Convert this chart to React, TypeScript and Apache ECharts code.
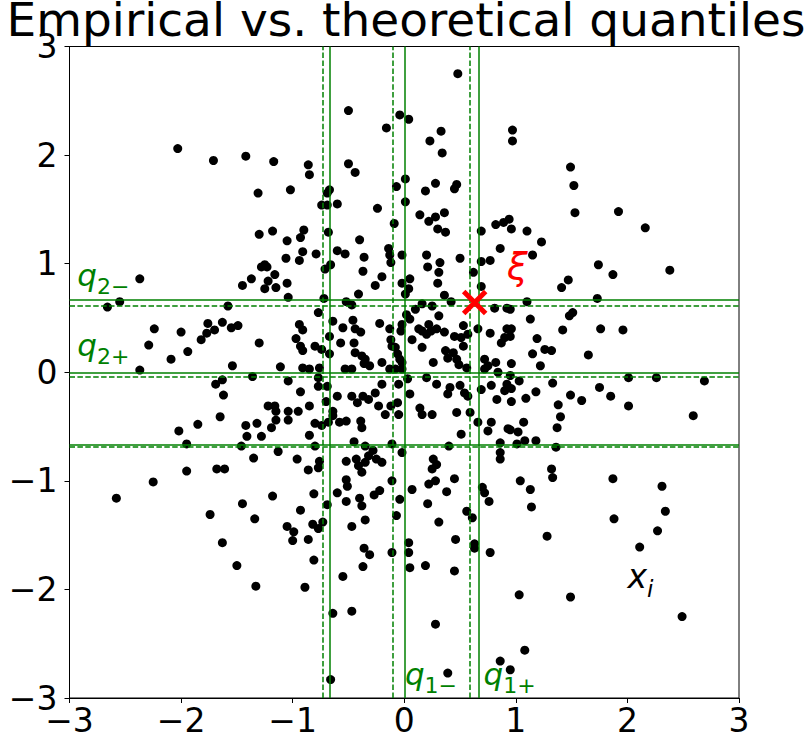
import React, { useEffect, useRef } from "react";
import * as echarts from "echarts";

// ---- data ----
const samplesTop: [number, number][] = [
  [-2.03, 2.06], [-1.71, 1.95], [-1.42, 1.99], [-1.17, 1.94], [-1.31, 1.65], [-1.02, 1.68], [-1.30, 1.27], [-1.18, 1.30], [-1.05, 1.21], [-1.06, 1.05], [-1.25, 0.99],
  [0.48, 2.75], [-0.50, 2.41], [-0.04, 2.37], [0.04, 2.33], [-0.16, 2.25], [0.33, 2.22], [0.23, 2.13], [0.34, 2.02], [0.97, 2.23], [0.97, 2.13], [-0.86, 1.91], [-0.85, 1.82],
  [-0.50, 1.92], [-0.44, 1.84], [-0.67, 1.68], [-0.69, 1.65], [0.01, 1.78], [-0.07, 1.71], [0.19, 1.67], [0.28, 1.74], [0.47, 1.73], [0.45, 1.69], [-0.74, 1.54], [-0.69, 1.54],
  [-0.60, 1.55], [-0.24, 1.51], [0.01, 1.57], [0.14, 1.45], [0.22, 1.39], [0.28, 1.43], [0.36, 1.47], [0.30, 1.32], [0.37, 1.29], [-0.09, 1.37], [-0.68, 1.29], [-0.90, 1.31],
  [-0.93, 1.24], [-0.40, 1.22], [-0.91, 1.11], [-0.79, 1.09], [-0.60, 1.12], [-0.53, 1.09], [-0.36, 1.06], [-0.14, 1.14], [-0.13, 1.08], [-0.02, 1.08], [0.20, 1.08], [0.50, 1.05],
  [0.69, 1.30], [0.82, 1.36], [0.89, 1.38], [0.94, 1.41], [0.96, 1.32], [0.86, 1.14], [0.77, 1.03], [-0.94, 1.03], [0.32, 1.01], [-0.12, 1.01], [-0.66, 0.99],
  [1.49, 1.89], [1.52, 1.72], [1.53, 1.47], [1.92, 1.48], [2.16, 1.33], [1.10, 1.30], [1.23, 1.20], [1.15, 1.08],
];

const samplesLeft: [number, number][] = [
  [-2.37, 0.86], [-2.66, 0.60], [-2.55, 0.65], [-1.45, 0.80], [-1.37, 0.86], [-1.28, 0.97], [-1.23, 0.97], [-1.16, 0.90], [-1.22, 0.84], [-1.25, 0.77], [-1.15, 0.78],
  [-1.05, 0.82], [-1.04, 0.69], [-1.58, 0.61], [-2.24, 0.40], [-2.29, 0.25], [-2.00, 0.37], [-2.09, 0.12], [-1.94, 0.19], [-1.82, 0.30], [-1.77, 0.36], [-1.76, 0.45],
  [-1.70, 0.39], [-1.63, 0.46], [-1.55, 0.41], [-1.49, 0.43], [-1.30, 0.27], [-2.37, 0.02], [-1.54, 0.06], [-1.36, -0.04], [-1.11, 0.05], [-1.04, -0.08], [-1.69, -0.11],
  [-1.63, -0.07], [-1.62, -0.21], [-1.65, -0.41], [-1.85, -0.48], [-2.02, -0.54], [-1.95, -0.66], [-1.95, -0.91], [-2.25, -1.01], [-1.68, -0.89], [-1.61, -0.89],
  [-1.42, -0.49], [-1.41, -0.59], [-1.32, -0.47], [-1.28, -0.59], [-1.22, -0.31], [-1.16, -0.31], [-1.15, -0.36], [-1.15, -0.44], [-1.19, -0.51], [-1.04, -0.36],
  [-1.04, -0.44], [-1.46, -0.68], [-1.35, -0.79], [-1.13, -0.73],
];

const samplesRight: [number, number][] = [
  [1.74, 0.99], [1.87, 0.90], [2.38, 0.94], [1.47, 0.85], [1.41, 0.78], [1.10, 0.65], [1.73, 0.68], [1.51, 0.55], [1.48, 0.52], [1.13, 0.49], [0.95, 0.58], [0.96, 0.40],
  [0.95, 0.33], [1.42, 0.39], [1.76, 0.40], [1.96, 0.39], [1.19, 0.31], [1.26, 0.21], [1.32, 0.20], [1.15, 0.17], [1.65, 0.16], [1.22, 0.06], [0.96, 0.08], [1.03, -0.08],
  [0.95, -0.03], [0.96, -0.15], [0.96, -0.27], [1.33, -0.10], [1.18, -0.18], [1.09, -0.24], [1.49, -0.21], [1.59, -0.26], [1.75, -0.14], [1.85, -0.22], [2.01, -0.05],
  [2.26, -0.05], [2.69, -0.08], [2.01, -0.31], [1.38, -0.30], [1.40, -0.41], [1.37, -0.51], [2.59, -0.40], [1.07, -0.46], [1.02, -0.55], [0.95, -0.53], [1.08, -0.63],
  [1.18, -0.63], [1.01, -0.66], [1.36, -0.69], [1.32, -0.89], [1.33, -0.97], [1.04, -1.00], [1.87, -0.98], [2.31, -1.05],
];

const samplesBottom: [number, number][] = [
  [-2.58, -1.16], [-1.74, -1.31], [-1.45, -1.21], [-1.18, -1.14], [-1.34, -1.35], [-1.05, -1.42], [-1.63, -1.57], [-1.50, -1.78], [-1.33, -1.97],
  [-0.99, -1.47], [-1.00, -1.55], [-0.93, -1.27], [-0.81, -1.12], [-0.69, -1.22], [-0.60, -1.11], [-0.52, -1.19], [-0.51, -1.05], [-0.52, -0.99], [-0.40, -1.16],
  [-0.38, -1.23], [-0.27, -1.13], [-0.22, -1.09], [-0.11, -1.00], [-0.04, -1.17], [0.07, -1.08], [0.22, -1.03], [0.28, -1.00], [0.38, -1.10], [0.45, -0.98],
  [0.21, -1.21], [0.56, -1.28], [0.61, -1.34], [0.70, -1.06], [0.72, -1.11], [0.76, -1.19], [-0.82, -1.40], [-0.77, -1.44], [-0.73, -1.38], [-0.86, -1.54],
  [-0.81, -1.73], [-0.47, -1.42], [-0.35, -1.36], [-0.36, -1.62], [-0.31, -1.68], [-0.37, -1.79], [-0.55, -1.88], [-0.89, -1.98], [-0.11, -1.66], [-0.07, -1.32],
  [0.04, -1.57], [0.04, -1.66], [0.05, -1.80], [0.19, -1.78], [0.31, -1.38], [0.46, -1.54], [0.45, -1.83], [0.63, -1.58], [0.63, -1.62], [0.77, -1.66],
  [-0.64, -2.22], [-0.47, -2.20], [0.28, -2.32], [-0.66, -2.83], [0.39, -2.77], [0.86, -2.66], [0.95, -2.74],
  [1.13, -1.08], [1.14, -1.24], [2.34, -1.28], [2.27, -1.46], [2.11, -1.61], [1.88, -1.35], [1.28, -1.51], [1.03, -2.05], [1.49, -2.07], [2.49, -2.25], [1.08, -2.56],
];

const samplesCentre: [number, number][] = [
  [-0.71, 0.95], [-0.37, 0.93], [0.21, 0.97], [0.31, 0.92], [0.62, 0.92], [0.69, 1.02], [-0.26, 0.80], [-0.20, 0.88], [0.05, 0.86], [-0.02, 0.82], [0.04, 0.77],
  [0.01, 0.72], [0.30, 0.82], [-0.41, 0.72], [-0.72, 0.68], [-0.52, 0.65], [-0.47, 0.62], [0.36, 0.71], [0.42, 0.65], [0.16, 0.63], [0.69, 0.79], [0.81, 0.59],
  [0.92, 0.59], [-0.77, 0.55], [0.02, 0.53], [0.05, 0.49], [0.10, 0.58], [0.31, 0.52], [0.25, 0.61], [-0.64, 0.47], [-0.46, 0.48], [-0.94, 0.44], [-0.91, 0.39],
  [-0.55, 0.41], [-0.44, 0.40], [-0.39, 0.37], [-0.22, 0.45], [-0.13, 0.40], [-0.02, 0.44], [-0.03, 0.38], [0.13, 0.40], [0.16, 0.38], [0.22, 0.44], [0.24, 0.38],
  [0.20, 0.35], [0.29, 0.40], [0.36, 0.37], [0.45, 0.33], [0.53, 0.43], [0.57, 0.35], [0.66, 0.40], [0.77, 0.36], [0.92, 0.40], [0.90, 0.32], [0.87, 0.27],
  [-0.97, 0.31], [-0.93, 0.24], [-0.91, 0.20], [-0.80, 0.24], [-0.67, 0.33], [-0.74, 0.21], [-0.67, 0.17], [-0.57, 0.27], [-0.45, 0.27], [-0.44, 0.18], [-0.38, 0.15],
  [-0.35, 0.12], [-0.31, 0.06], [-0.36, 0.08], [-0.20, 0.09], [-0.12, 0.30], [-0.11, 0.24], [-0.08, 0.23], [-0.06, 0.17], [-0.04, 0.12], [-0.02, 0.09], [-0.08, 0.03],
  [0.07, 0.30], [0.16, 0.23], [0.26, 0.09], [0.37, 0.20], [0.39, 0.13], [0.44, 0.18], [0.47, 0.12], [0.51, 0.32], [0.53, 0.24], [0.49, 0.07], [0.56, 0.04],
  [0.72, 0.12], [0.75, 0.06], [0.82, 0.09], [0.84, 0.00], [0.72, 0.03], [-0.91, 0.04], [-0.85, 0.03], [-0.76, 0.04], [-0.53, 0.03], [-0.47, 0.03], [-0.13, 0.03],
  [-0.02, 0.03], [-0.93, -0.18], [-0.77, -0.05], [-0.77, -0.13], [-0.69, -0.13], [-0.60, -0.22], [-0.70, -0.27], [-0.64, -0.36], [-0.64, -0.40], [-0.85, -0.31],
  [-0.95, -0.36], [-0.85, -0.58], [-0.80, -0.47], [-0.74, -0.49], [-0.68, -0.46], [-0.58, -0.46], [-0.52, -0.45], [-0.47, -0.22], [-0.42, -0.28], [-0.37, -0.22],
  [-0.32, -0.25], [-0.26, -0.19], [-0.20, -0.11], [-0.23, -0.31], [-0.17, -0.39], [-0.12, -0.31], [-0.05, -0.11], [-0.06, -0.28], [-0.05, -0.39], [0.03, -0.06],
  [0.05, -0.20], [0.14, -0.33], [0.16, -0.39], [0.20, -0.05], [0.25, -0.39], [0.29, -0.11], [0.39, -0.20], [0.41, -0.14], [0.50, -0.12], [0.54, -0.19], [0.57, -0.22],
  [0.59, -0.37], [0.47, -0.37], [0.66, -0.46], [0.69, -0.16], [0.78, -0.12], [0.90, -0.17], [0.92, -0.11], [0.83, -0.25], [0.78, -0.46], [0.75, -0.54], [0.93, -0.52],
  [0.51, -0.57], [-0.39, -0.45], [-0.38, -0.51], [-0.80, -0.68], [-0.45, -0.64], [-0.35, -0.68], [-0.28, -0.72], [-0.11, -0.66], [-0.02, -0.74], [0.40, -0.68],
  [0.86, -0.65], [-0.96, -0.80], [-0.86, -0.90], [-0.77, -0.88], [-0.76, -0.82], [-0.52, -0.82], [-0.43, -0.80], [-0.41, -0.86], [-0.35, -0.83], [-0.32, -0.77],
  [-0.25, -0.80], [-0.20, -0.83], [-0.38, -0.92], [0.26, -0.80], [0.29, -0.85], [0.25, -0.89], [0.86, -0.74], [0.86, -0.80],
];

const theoreticalQuartiles = [-0.674, 0, 0.674];
const empiricalQuantilesX = [-0.728, -0.095, 0.595];
const empiricalQuantilesY = [-0.686, -0.037, 0.607];
const xiPoint: [number, number] = [0.631, 0.643];
const axisMin = -3;
const axisMax = 3;
const axisStep = 1;

const titleText = "Empirical vs. theoretical quantiles";

const annotations = [
  { text: "{q|q}{s|2−}", at: [-2.93, 0.69] },
  { text: "{q|q}{s|2+}", at: [-2.93, 0.046] },
  { text: "{q|q}{s|1−}", at: [0.006, -2.99] },
  { text: "{q|q}{s|1+}", at: [0.71, -2.99] },
  { text: "{r|ξ}", at: [0.92, 0.8] },
  { text: "{x|x}{i|i}", at: [2.0, -2.1] },
];

const FONT = "DejaVu Sans";
const GREEN = "#008000";

export default function App() {
  const ref = useRef<HTMLDivElement>(null);
  useEffect(() => {
    if (!ref.current) return;
    const chart = echarts.init(ref.current, undefined, { renderer: "svg" });
    const fmt = (v: number) => String(v).replace("-", "\u2212");
    const axisCommon = {
      type: "value" as const,
      min: axisMin,
      max: axisMax,
      interval: axisStep,
      splitLine: { show: false },
      axisLine: { show: true, onZero: false, lineStyle: { color: "#000", width: 1 } },
      axisTick: { show: true, inside: false, length: 5, lineStyle: { color: "#000", width: 1 } },
    };
    const solid = { color: GREEN, width: 1.5, type: "solid" as const, opacity: 1 };
    const dashed = { color: GREEN, width: 1.5, type: [5.5, 2.4] as any, opacity: 1 };
    const lineData = [
      ...theoreticalQuartiles.map((v) => ({ xAxis: v, lineStyle: solid })),
      ...theoreticalQuartiles.map((v) => ({ yAxis: v, lineStyle: solid })),
      ...empiricalQuantilesX.map((v) => ({ xAxis: v, lineStyle: dashed })),
      ...empiricalQuantilesY.map((v) => ({ yAxis: v, lineStyle: dashed })),
    ];
    const rich = {
      q: { fontSize: 31, lineHeight: 31, fontStyle: "italic", color: GREEN, fontFamily: FONT, padding: [0, 0, 7, 0], verticalAlign: "bottom" },
      s: { fontSize: 22, lineHeight: 22, color: GREEN, fontFamily: FONT, verticalAlign: "bottom" },
      r: { fontSize: 37, lineHeight: 37, fontStyle: "italic", color: "#ff0000", fontFamily: FONT, verticalAlign: "bottom" },
      x: { fontSize: 33, lineHeight: 33, fontStyle: "italic", color: "#000", fontFamily: FONT, padding: [0, 0, 7, 0], verticalAlign: "bottom" },
      i: { fontSize: 23, lineHeight: 23, fontStyle: "italic", color: "#000", fontFamily: FONT, verticalAlign: "bottom" },
    };
    const allSamples = [...samplesTop, ...samplesLeft, ...samplesCentre, ...samplesRight, ...samplesBottom];
    chart.setOption({
      animation: false,
      backgroundColor: "#fff",
      title: {
        text: titleText,
        left: "center",
        top: -9,
        textStyle: { fontSize: 47, fontWeight: "normal", color: "#000", fontFamily: FONT },
      },
      grid: { left: 69.5, top: 46.5, width: 669.5, height: 653, show: true, borderColor: "#000", borderWidth: 1, backgroundColor: "transparent" },
      xAxis: {
        ...axisCommon,
        axisLabel: { fontSize: 33, color: "#000", fontFamily: FONT, margin: 6, formatter: fmt },
      },
      yAxis: {
        ...axisCommon,
        axisLabel: { fontSize: 33, color: "#000", fontFamily: FONT, margin: 12, formatter: fmt },
      },
      series: [
        {
          type: "scatter",
          data: allSamples,
          symbol: "circle",
          symbolSize: 9,
          itemStyle: { color: "#000", opacity: 1 },
          z: 2,
          silent: true,
        },
        {
          type: "scatter",
          data: [],
          z: 3,
          silent: true,
          markLine: {
            silent: true,
            symbol: ["none", "none"],
            label: { show: false },
            animation: false,
            data: lineData,
          },
        },
        {
          type: "scatter",
          data: [xiPoint],
          symbol: "path://M0,0L10,10M10,0L0,10",
          symbolSize: 22,
          itemStyle: { color: "rgba(0,0,0,0)", borderColor: "#ff0000", borderWidth: 5, opacity: 1 },
          z: 5,
          silent: true,
        },
        {
          type: "scatter",
          data: annotations.map((a) => ({ value: a.at, label: { formatter: a.text } })),
          symbolSize: 0,
          itemStyle: { color: "rgba(0,0,0,0)", opacity: 1 },
          z: 6,
          silent: true,
          label: {
            show: true,
            position: "inside",
            align: "left",
            verticalAlign: "bottom",
            opacity: 1,
            rich,
          },
        },
      ],
    });
    return () => chart.dispose();
  }, []);
  return <div ref={ref} style={{ position: "fixed", left: 0, top: 0, width: 812, height: 737 }} />;
}
